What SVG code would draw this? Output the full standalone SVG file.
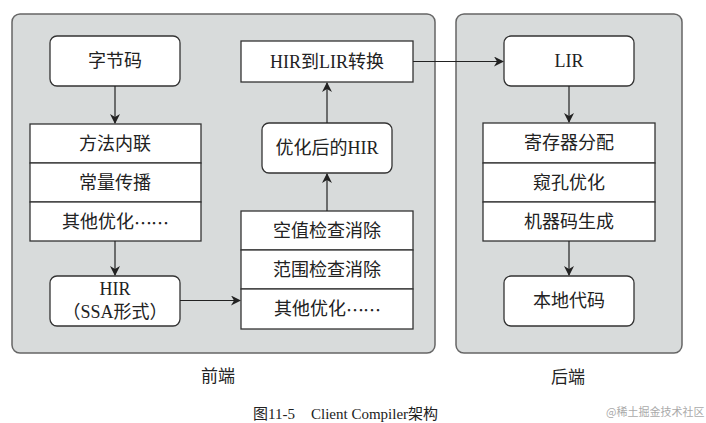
<svg xmlns="http://www.w3.org/2000/svg" width="706" height="423" viewBox="0 0 706 423">
<defs>
<marker id="ah" markerWidth="10" markerHeight="10" refX="9" refY="5" orient="auto" markerUnits="userSpaceOnUse">
<path d="M0,0 L10,5 L0,10 L3,5 Z" fill="#222"/>
</marker>
<style>
.panel{fill:#d8dbdb;stroke:#666;stroke-width:1.5}
.box{fill:#fff;stroke:#333;stroke-width:1.3}
.t{font-family:"Liberation Serif","Noto Sans CJK SC",serif;font-size:18px;fill:#222;text-anchor:middle;dominant-baseline:central}
.el{font-family:"Noto Sans CJK SC",sans-serif;letter-spacing:-1px}
.lbl{font-family:"Liberation Serif","Noto Sans CJK SC",serif;font-size:17px;fill:#222;text-anchor:middle;dominant-baseline:central}
.cap{font-family:"Liberation Serif","Noto Sans CJK SC",serif;font-size:15px;fill:#222;dominant-baseline:central}
.wm{font-family:"Noto Sans CJK SC",sans-serif;font-size:11px;fill:#aaa;dominant-baseline:central}
.c{fill:none;stroke:#222;stroke-width:1.2;marker-end:url(#ah)}
</style>
</defs>
<rect width="706" height="423" fill="#fff"/>
<g id="frontend">
<rect class="panel" x="12" y="14" width="423" height="339" rx="8"/>
<text class="lbl" x="218" y="376">前端</text>
</g>
<g id="backend">
<rect class="panel" x="456" y="14" width="226" height="339" rx="8"/>
<text class="lbl" x="568" y="377">后端</text>
</g>
<g id="bytecode">
<rect class="box" x="50" y="36" width="130" height="50" rx="7"/>
<text class="t" x="115" y="61">字节码</text>
</g>
<g id="opt1">
<rect class="box" x="30" y="124" width="171" height="39"/>
<text class="t" x="115" y="143.5">方法内联</text>
<rect class="box" x="30" y="163" width="171" height="39"/>
<text class="t" x="115" y="182.5">常量传播</text>
<rect class="box" x="30" y="202" width="171" height="39"/>
<text class="t" x="115" y="221.5">其他优化<tspan class="el">……</tspan></text>
</g>
<g id="hir">
<rect class="box" x="50" y="276" width="130" height="50" rx="7"/>
<text class="t" x="115" y="289">HIR</text>
<text class="t" x="115" y="312">（SSA形式）</text>
</g>
<g id="opt2">
<rect class="box" x="241" y="211" width="172" height="39"/>
<text class="t" x="327" y="230.5">空值检查消除</text>
<rect class="box" x="241" y="250" width="172" height="39"/>
<text class="t" x="327" y="269.5">范围检查消除</text>
<rect class="box" x="241" y="289" width="172" height="40"/>
<text class="t" x="327" y="309">其他优化<tspan class="el">……</tspan></text>
</g>
<g id="opthir">
<rect class="box" x="262" y="123" width="130" height="50" rx="7"/>
<text class="t" x="327" y="148">优化后的HIR</text>
</g>
<g id="hir2lir">
<rect class="box" x="241" y="41" width="172" height="41"/>
<text class="t" x="327" y="61.5">HIR到LIR转换</text>
</g>
<g id="lir">
<rect class="box" x="504" y="36" width="130" height="50" rx="7"/>
<text class="t" x="569" y="61">LIR</text>
</g>
<g id="opt3">
<rect class="box" x="483" y="123" width="172" height="40"/>
<text class="t" x="569" y="143">寄存器分配</text>
<rect class="box" x="483" y="163" width="172" height="39"/>
<text class="t" x="569" y="182.5">窥孔优化</text>
<rect class="box" x="483" y="202" width="172" height="39"/>
<text class="t" x="569" y="221.5">机器码生成</text>
</g>
<g id="native">
<rect class="box" x="504" y="276" width="130" height="50" rx="7"/>
<text class="t" x="569" y="301">本地代码</text>
</g>
<g id="connectors">
<path class="c" d="M115,86 V123"/>
<path class="c" d="M115,241 V275"/>
<path class="c" d="M180,300.5 H240"/>
<path class="c" d="M327,211 V174"/>
<path class="c" d="M327,123 V83"/>
<path class="c" d="M413,61.5 H503"/>
<path class="c" d="M569,86 V122"/>
<path class="c" d="M569,241 V275"/>
</g>
<text class="cap" x="253" y="414">图11-5<tspan x="311">Client Compiler架构</tspan></text>
<text class="wm" x="606" y="411">@稀土掘金技术社区</text>
</svg>
